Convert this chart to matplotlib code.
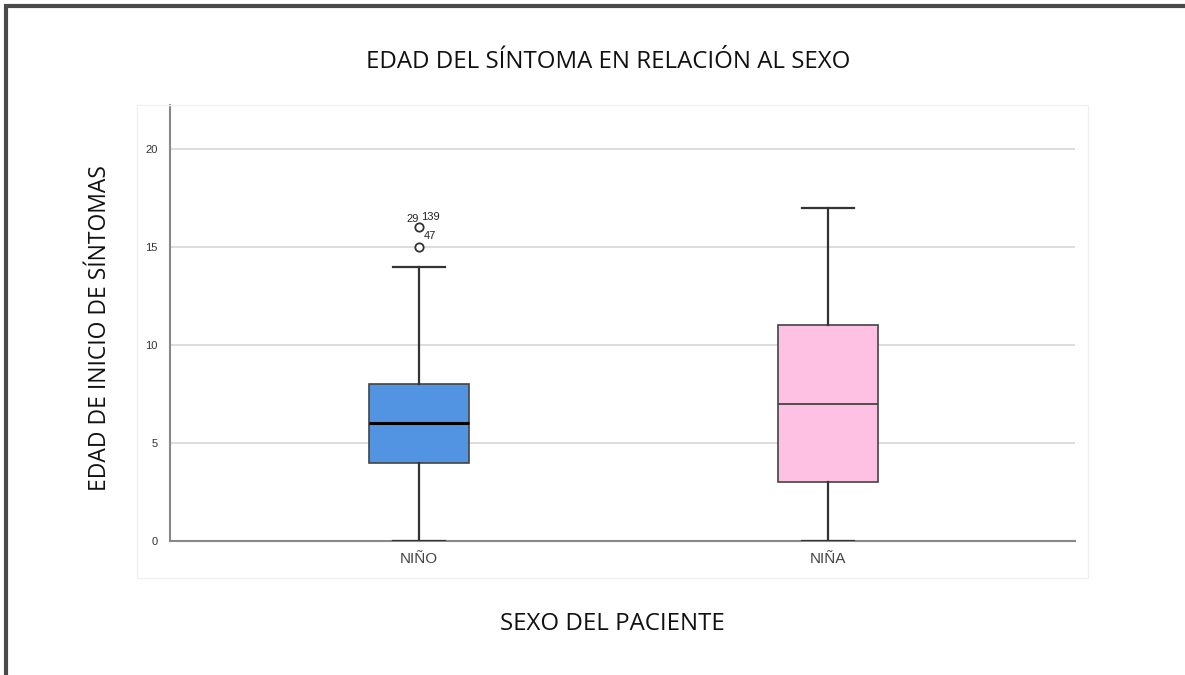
import matplotlib.pyplot as plt
from matplotlib.patches import Rectangle

# resumen de cada grupo (mínimo, Q1, mediana, Q3, máximo)
grupos = ["NIÑO", "NIÑA"]
minimos = [0, 0]
q1 = [4, 3]
medianas = [6, 7]
q3 = [8, 11]
maximos = [14, 17]
colores = ["#5294e2", "#ffc1e3"]

# atípicos del grupo NIÑO con su número de caso
atipicos_valor = [16, 15]
atipicos_caso = [["29", "139"], ["47"]]

yticks = [0, 5, 10, 15, 20]

fig = plt.figure(figsize=(11.85, 6.75), dpi=100)
fig.patch.set_facecolor("white")

# marco exterior
fig.add_artist(Rectangle((6 / 1185, -0.01), 1.1, 1 - 6 / 675 + 0.01,
                         transform=fig.transFigure, fill=False,
                         edgecolor="#4a4a4a", linewidth=3))
# panel del gráfico
fig.add_artist(Rectangle((137 / 1185, 1 - 578 / 675), 951 / 1185, 473 / 675,
                         transform=fig.transFigure, fill=False,
                         edgecolor="#f0f0f0", linewidth=1))

ax = fig.add_axes([170 / 1185, 1 - 541 / 675, 905 / 1185, 436 / 675])

stats = []
for i, g in enumerate(grupos):
    stats.append({
        "label": g, "whislo": minimos[i], "q1": q1[i], "med": medianas[i],
        "q3": q3[i], "whishi": maximos[i],
        "fliers": atipicos_valor if i == 0 else [],
    })

bp = ax.bxp(stats, positions=[1, 2], widths=0.244, patch_artist=True,
            capwidths=0.125,
            boxprops=dict(edgecolor="#444444", linewidth=1.2),
            whiskerprops=dict(color="#333333", linewidth=1.6),
            capprops=dict(color="#333333", linewidth=1.6),
            flierprops=dict(marker="o", markersize=6, markerfacecolor="white",
                            markeredgecolor="#333333", markeredgewidth=1.3),
            medianprops=dict(color="black", linewidth=2.2))
for patch, c in zip(bp["boxes"], colores):
    patch.set_facecolor(c)
bp["medians"][1].set_color("#444444")
bp["medians"][1].set_linewidth(1.3)
for m in bp["medians"] + bp["whiskers"] + bp["caps"]:
    m.set_zorder(3)

# etiquetas de casos atípicos
kw = dict(fontsize=8, color="#222222", family="Liberation Sans", va="center")
ax.text(1, atipicos_valor[0] + 0.45, atipicos_caso[0][0], ha="right", **kw)
ax.text(1.005, atipicos_valor[0] + 0.55, atipicos_caso[0][1], ha="left", **kw)
ax.text(1.012, atipicos_valor[1] + 0.55, atipicos_caso[1][0], ha="left", **kw)

ax.set_xlim(0.391, 2.604)
ax.set_ylim(0, 22.24)
ax.set_yticks(yticks)
ax.yaxis.grid(True, color="#d9d9d9", linewidth=1.3)
ax.set_axisbelow(True)
for s in ["top", "right"]:
    ax.spines[s].set_visible(False)
ax.spines["left"].set_color("#888888")
ax.spines["bottom"].set_color("#888888")
ax.spines["left"].set_linewidth(1.5)
ax.spines["bottom"].set_linewidth(1.5)
ax.tick_params(axis="y", length=0, pad=9, labelsize=8, labelcolor="#333333")
ax.tick_params(axis="x", length=0, pad=8, labelsize=11, labelcolor="#444444")
for lbl in ax.get_xticklabels() + ax.get_yticklabels():
    lbl.set_family("Liberation Sans")

fig.text(608 / 1185, 1 - 62 / 675, "EDAD DEL SÍNTOMA EN RELACIÓN AL SEXO",
         ha="center", va="center", fontsize=17.3, family="Open Sans",
         color="#111111")
fig.text(100 / 1185, 1 - 328 / 675, "EDAD DE INICIO DE SÍNTOMAS",
         ha="center", va="center", rotation=90, fontsize=16.5,
         family="Open Sans", color="#111111")
fig.text(612 / 1185, 1 - 624 / 675, "SEXO DEL PACIENTE",
         ha="center", va="center", fontsize=17.3, family="Open Sans",
         color="#111111")

fig.savefig("out.png", dpi=100)
